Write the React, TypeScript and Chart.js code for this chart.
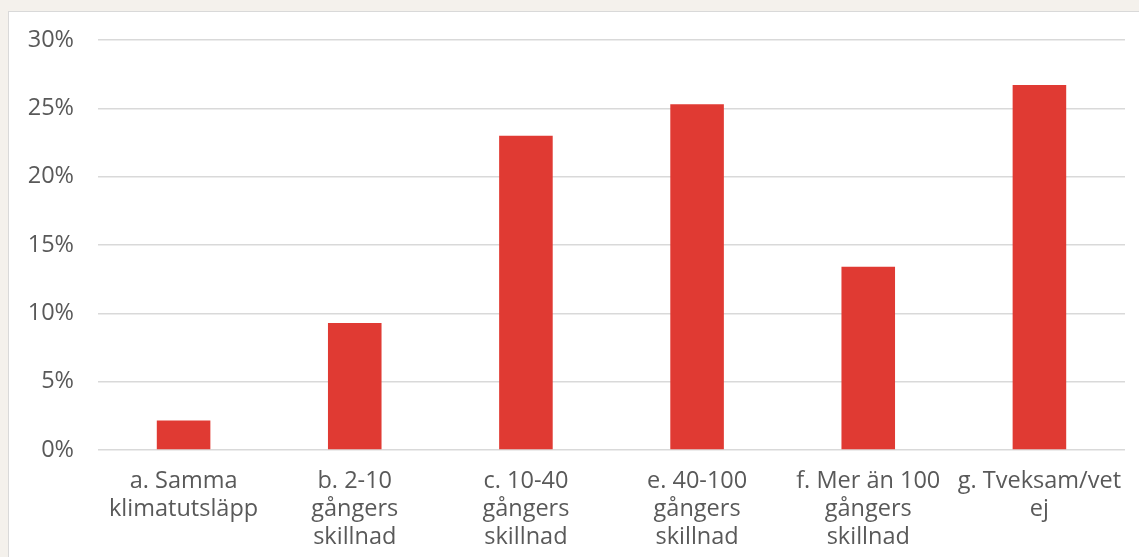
import React, { useEffect, useRef } from "react";
import { Chart, registerables } from "chart.js";

Chart.register(...registerables);

const categories: string[][] = [
  ["a. Samma", "klimatutsläpp"],
  ["b. 2-10", "gångers", "skillnad"],
  ["c. 10-40", "gångers", "skillnad"],
  ["e. 40-100", "gångers", "skillnad"],
  ["f. Mer än 100", "gångers", "skillnad"],
  ["g. Tveksam/vet", "ej"],
];
const values: number[] = [2.15, 9.3, 23.0, 25.3, 13.4, 26.7];
const yTicks: number[] = [0, 5, 10, 15, 20, 25, 30];

export default function App() {
  const ref = useRef<HTMLCanvasElement | null>(null);
  useEffect(() => {
    if (!ref.current) return;
    const chart = new Chart(ref.current, {
      type: "bar",
      data: {
        labels: categories,
        datasets: [
          {
            data: values,
            backgroundColor: "#e03a33",
            borderWidth: 0,
            barPercentage: 0.313,
            categoryPercentage: 1,
          },
        ],
      },
      options: {
        animation: false,
        responsive: false,
        maintainAspectRatio: false,
        layout: { padding: { top: 28, right: 14, left: 0, bottom: 0 } },
        plugins: { legend: { display: false }, tooltip: { enabled: false } },
        scales: {
          x: {
            grid: { display: false },
            border: { display: false },
            ticks: {
              color: "#595959",
              font: { family: "Open Sans", size: 23.5 },
              maxRotation: 0,
              autoSkip: false,
              padding: 9,
            },
            afterFit: (s: any) => {
              s.height = 107;
            },
          },
          y: {
            min: 0,
            max: 30,
            afterBuildTicks: (s: any) => {
              s.ticks = yTicks.map((v) => ({ value: v }));
            },
            grid: { color: "#d9d9d9", lineWidth: 1.5, drawTicks: false },
            border: { display: false },
            ticks: {
              color: "#595959",
              font: { family: "Open Sans", size: 23.5 },
              padding: 24,
              callback: (v: any) => v + "%",
            },
            afterFit: (s: any) => {
              s.width = 89;
              s.paddingTop = 0;
              s.paddingBottom = 0;
            },
          },
        },
      },
    });
    return () => chart.destroy();
  }, []);
  return (
    <div style={{ position: "fixed", inset: 0, background: "#f4f1ec" }}>
      <div
        style={{
          position: "absolute",
          left: 8,
          top: 11,
          width: 1131,
          height: 546,
          background: "#ffffff",
          borderLeft: "1px solid #d9d9d9",
          borderTop: "1px solid #d9d9d9",
          boxSizing: "border-box",
        }}
      >
        <canvas ref={ref} width={1130} height={545} style={{ display: "block" }} />
      </div>
    </div>
  );
}
